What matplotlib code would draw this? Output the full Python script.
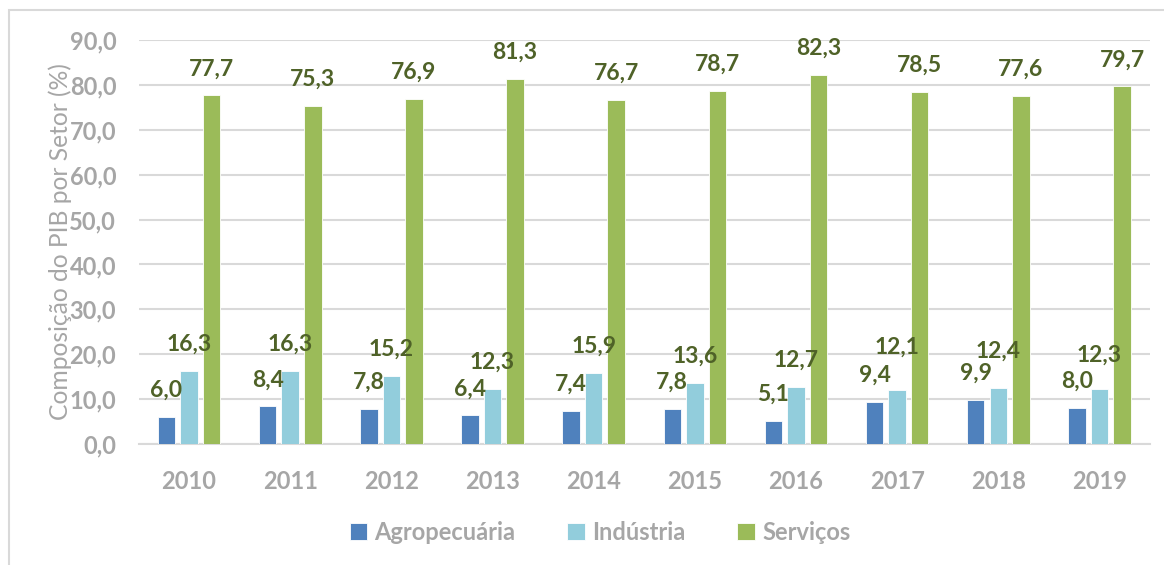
import numpy as np
import matplotlib
matplotlib.use("Agg")
import matplotlib.pyplot as plt
from matplotlib.patches import Rectangle

# Data
years = ["2010", "2011", "2012", "2013", "2014", "2015", "2016", "2017", "2018", "2019"]
agro = [6.0, 8.4, 7.8, 6.4, 7.4, 7.8, 5.1, 9.4, 9.9, 8.0]
industria = [16.3, 16.3, 15.2, 12.3, 15.9, 13.6, 12.7, 12.1, 12.4, 12.3]
servicos = [77.7, 75.3, 76.9, 81.3, 76.7, 78.7, 82.3, 78.5, 77.6, 79.7]
series_names = ["Agropecuária", "Indústria", "Serviços"]
y_ticks = [0, 10, 20, 30, 40, 50, 60, 70, 80, 90]

colors = ["#4F81BD", "#92CDDC", "#9BBB59"]
label_color = "#4F6228"
gray = "#A6A6A6"
grid_color = "#D9D9D9"

# extra lift (px) of some Indústria labels, as in the original, to clear the Agro labels
lift_px = {(1, 7): 16, (1, 8): 11, (1, 9): 7}

plt.rcParams['font.family'] = ['Lato', 'DejaVu Sans']
W = "bold"

fig = plt.figure(figsize=(11.64, 5.65), dpi=100)

# outer chart frame
fig.patches.append(Rectangle((9 / 1164, -0.1), 1.2, 1 - 9.5 / 565 + 0.1,
                             transform=fig.transFigure, fill=False,
                             edgecolor="#D9D9D9", lw=1.5))

ax = fig.add_axes([138.5 / 1164, (565 - 444) / 565, 1011.5 / 1164, 404 / 565])

x = np.arange(len(years))
width = 0.173
step = 0.223
for i, (vals, name) in enumerate(zip([agro, industria, servicos], series_names)):
    bars = ax.bar(x + (i - 1) * step, vals, width, color=colors[i], label=name,
                  edgecolor="white", linewidth=0.6, zorder=3)
    for j, (b, v) in enumerate(zip(bars, vals)):
        off = (20 + lift_px.get((i, j), 0)) * 72 / 100
        ax.annotate(f"{v:.1f}".replace(".", ","),
                    (b.get_x() + b.get_width() / 2, v),
                    xytext=(0, off), textcoords="offset points",
                    ha="center", va="baseline", fontsize=16.5,
                    fontweight=W, color=label_color,
                    annotation_clip=False, zorder=4)

ax.set_xlim(-0.5, len(years) - 0.5)
ax.set_ylim(0, 90)
ax.set_yticks(y_ticks)
ax.set_yticklabels([f"{t:.1f}".replace(".", ",") for t in y_ticks])
ax.set_xticks(x)
ax.set_xticklabels(years)
ax.tick_params(axis="both", length=0, labelsize=17, labelcolor=gray)
ax.tick_params(axis="y", pad=16)
ax.tick_params(axis="x", pad=19)
for lab in ax.get_xticklabels() + ax.get_yticklabels():
    lab.set_fontweight(W)

ax.grid(axis="y", color=grid_color, lw=1.5, zorder=0)
for s in ["top", "right", "left"]:
    ax.spines[s].set_visible(False)
ax.spines["bottom"].set_color(grid_color)
ax.spines["bottom"].set_linewidth(1.5)

ax.set_ylabel("Composição do PIB por Setor (%)", fontsize=17.7, color=gray, labelpad=-2)

leg = fig.legend(loc="center", bbox_to_anchor=(600 / 1164, 1 - 532 / 565),
                 ncol=3, frameon=False, fontsize=17, handlelength=0.75,
                 handleheight=0.75, handletextpad=0.3, columnspacing=2.2)
for t in leg.get_texts():
    t.set_color(gray)
    t.set_fontweight(W)

fig.savefig("out.png", dpi=100)
